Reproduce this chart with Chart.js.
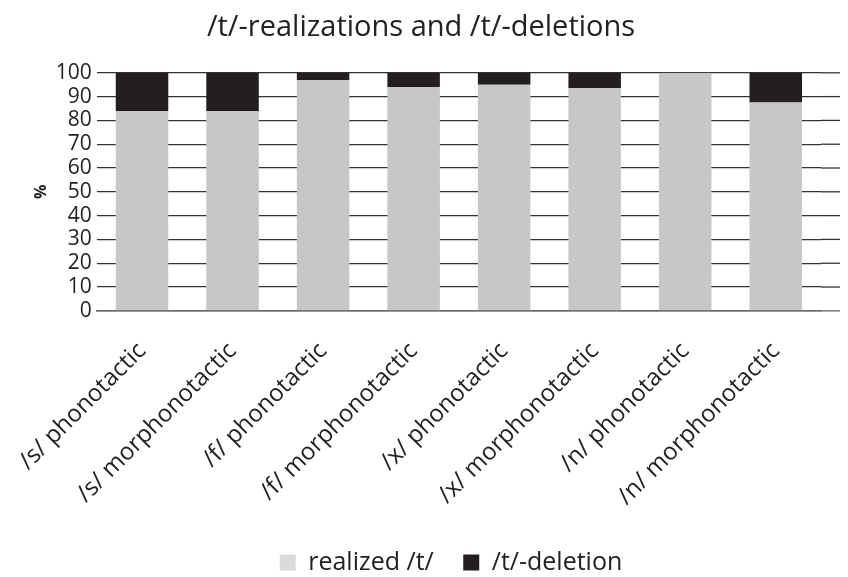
<!DOCTYPE html>
<html>
<head>
<meta charset="utf-8">
<script src="https://cdn.jsdelivr.net/npm/chart.js@4"></script>
<style>
  html, body { margin: 0; padding: 0; background: #fff; }
  #wrap { width: 848px; height: 577px; position: relative; }
</style>
</head>
<body>
<div id="wrap"><canvas id="chart"></canvas></div>
<script>
const categories = ['/s/ phonotactic', '/s/ morphonotactic', '/f/ phonotactic', '/f/ morphonotactic',
    '/x/ phonotactic', '/x/ morphonotactic', '/n/ phonotactic', '/n/ morphonotactic'];
const realized = [84, 84, 97, 94, 95, 93.5, 100, 87.5];
const deletion = [16, 16, 3, 6, 5, 6.5, 0, 12.5];
const yTicks = [0, 10, 20, 30, 40, 50, 60, 70, 80, 90, 100];
const seriesNames = ['realized /t/', '/t/-deletion'];

const font = "'Open Sans', sans-serif";

// gridlines in the original run on a little past the last category
const gridExtend = {
    id: 'gridExtend',
    beforeDatasetsDraw(chart) {
        const { ctx, chartArea, scales } = chart;
        ctx.save();
        ctx.lineWidth = 1.3;
        yTicks.forEach(v => {
            const y = scales.y.getPixelForValue(v);
            ctx.strokeStyle = v === 0 ? '#666' : '#333';
            ctx.beginPath();
            ctx.moveTo(chartArea.right, y);
            ctx.lineTo(840, y);
            ctx.stroke();
        });
        ctx.restore();
    }
};

// legend sits a bit right of centre and lower in the original
const legendNudge = {
    id: 'legendNudge',
    afterLayout(chart) {
        const lg = chart.legend;
        lg.left += 30; lg.right += 30;
        lg.top += 11; lg.bottom += 11;
    }
};

new Chart(document.getElementById('chart'), {
    type: 'bar',
    data: {
        labels: categories,
        datasets: [{
            label: seriesNames[0],
            data: realized,
            backgroundColor: '#c6c7c9',
            borderWidth: 0,
            barPercentage: 0.58,
            categoryPercentage: 1
        }, {
            label: seriesNames[1],
            data: deletion,
            backgroundColor: '#231f20',
            borderWidth: 0,
            barPercentage: 0.58,
            categoryPercentage: 1
        }]
    },
    options: {
        responsive: true,
        maintainAspectRatio: false,
        animation: false,
        layout: { padding: { left: 21, right: 27, top: 4, bottom: 3 } },
        scales: {
            x: {
                stacked: true,
                grid: { display: false },
                border: { color: '#666', width: 1.5 },
                ticks: {
                    color: '#222',
                    font: { family: font, size: 24 },
                    minRotation: 45,
                    maxRotation: 45,
                    autoSkip: false,
                    padding: 18
                }
            },
            y: {
                stacked: true,
                min: 0,
                max: 100,
                afterBuildTicks: function (axis) {
                    axis.ticks = yTicks.map(v => ({ value: v }));
                },
                grid: { color: '#333', lineWidth: 1.3, drawTicks: false },
                border: { display: false },
                ticks: {
                    color: '#222',
                    font: { family: font, size: 21 },
                    autoSkip: false,
                    padding: 5
                },
                title: {
                    display: true,
                    text: '%',
                    color: '#222',
                    font: { family: font, size: 16, weight: 'bold' },
                    padding: 0
                }
            }
        },
        plugins: {
            title: {
                display: true,
                text: '/t/-realizations and /t/-deletions',
                color: '#222',
                font: { family: font, size: 29, weight: 'normal' },
                padding: { top: 6, bottom: 28 }
            },
            legend: {
                position: 'bottom',
                labels: {
                    color: '#222',
                    font: { family: font, size: 25 },
                    boxWidth: 16,
                    boxHeight: 16,
                    padding: 10,
                    generateLabels: function (chart) {
                        const cols = ['#d9dadb', '#231f20'];
                        return chart.data.datasets.map((ds, i) => ({
                            text: i === 0 ? ds.label + '\u00a0\u00a0\u00a0' : ds.label,
                            fillStyle: cols[i],
                            strokeStyle: cols[i],
                            lineWidth: 0,
                            datasetIndex: i,
                            fontColor: '#222'
                        }));
                    }
                }
            },
            tooltip: { enabled: false }
        }
    },
    plugins: [gridExtend, legendNudge]
});
</script>
</body>
</html>
